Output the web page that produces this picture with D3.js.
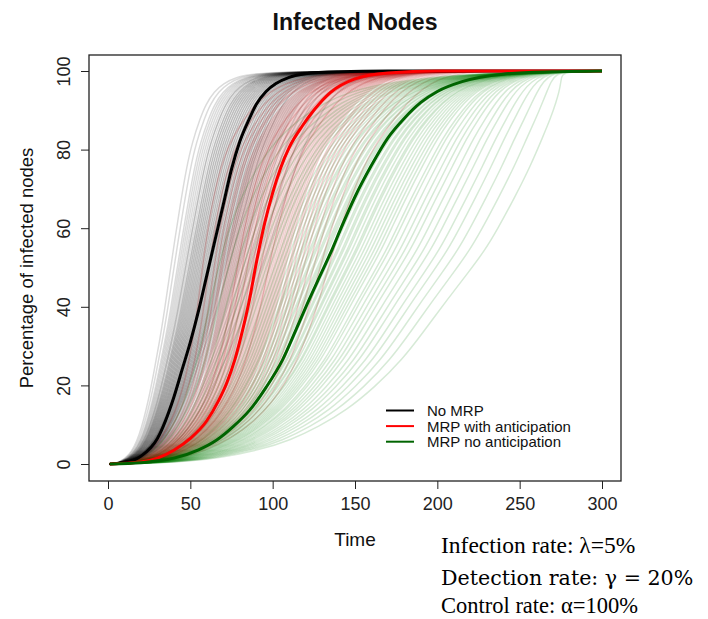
<!DOCTYPE html>
<html>
<head>
<meta charset="utf-8">
<script src="https://cdn.jsdelivr.net/npm/d3@7/dist/d3.min.js"></script>
<style>
  body { margin: 0; background: #fff; }
  svg { display: block; }
</style>
</head>
<body>
<div id="chart"></div>
<script>
// mean curves (time, % infected)
var blackTimes = [1, 10, 20, 30, 40, 45, 50, 55, 60, 65, 70, 75, 80, 86, 90, 96, 102, 110, 120, 140, 170, 300];
var blackMean  = [0, 0.3, 2, 6.5, 17, 24, 31, 39, 48, 57, 66, 75, 82, 88, 91.5, 94.8, 96.8, 98.4, 99.3, 99.8, 100, 100];

var redTimes = [1, 20, 30, 40, 50, 60, 67, 72, 77, 82, 86, 90, 95, 100, 105, 110, 118, 125, 135, 150, 170, 200, 300];
var redMean  = [0, 0.5, 1.5, 3.5, 6.5, 11, 16, 20.5, 26.5, 34.5, 42, 51, 61, 69, 75.5, 80.5, 86, 90, 94.5, 98, 99.5, 100, 100];

var greenTimes = [1, 20, 30, 40, 55, 66, 76, 86, 96, 106, 114, 122, 130, 136, 141, 150, 160, 170, 180, 190, 200, 215, 240, 270, 300];
var greenMean  = [0, 0.3, 0.8, 1.5, 3.6, 6.1, 9.5, 13.7, 19.5, 26.5, 34, 41.7, 49, 54.5, 59.5, 68, 76, 83, 88, 92, 94.8, 97.3, 99.2, 99.8, 100];

// time when the mean curve passes 50%
var halfTimes = [61, 89, 131];

// how far each single run sits from the mean at 50% (time units), estimated from the bundles
var blackRuns = [-23, -21, -19, -18, -17, -16, -15, -14, -14, -13, -12, -12, -11, -11, -10, -10, -9, -9, -8, -8, -7, -7, -6, -6, -5, -5, -4, -4, -3, -3, -2, -2, -1, -1, 0, 0, 0, 1, 1, 2, 2, 3, 3, 4, 4, 5, 5, 6, 6, 7, 7, 8, 8, 9, 9, 10, 10, 11, 12, 12, 13, 14, 15, 16, 17, 18, 19, 21, 23, 25, 28, 32];
var redRuns = [-32, -28, -25, -23, -21, -20, -18, -17, -16, -15, -14, -13, -12, -11, -11, -10, -9, -8, -8, -7, -6, -5, -5, -4, -3, -2, -2, -1, 0, 0, 1, 2, 3, 3, 4, 5, 6, 7, 8, 8, 9, 10, 11, 12, 13, 14, 15, 16, 17, 18, 20, 21, 23, 25, 27, 29, 32, 35, 39, 44];
var greenRuns = [-64, -58, -53, -49, -46, -43, -40, -37, -35, -33, -30, -28, -26, -24, -22, -20, -18, -17, -15, -13, -12, -10, -9, -7, -6, -4, -3, -2, 0, 1, 3, 4, 6, 7, 9, 10, 12, 14, 15, 17, 19, 21, 23, 25, 27, 29, 32, 34, 37, 40, 43, 46, 50, 54, 58, 63, 68, 74, 81, 90];

var seriesNames = ["No MRP", "MRP with anticipation", "MRP no anticipation"];
var seriesColors = ["#000000", "#ff0000", "#006400"];
var runColors = ["rgba(0,0,0,0.14)", "rgba(175,0,0,0.19)", "rgba(0,125,0,0.16)"];

var xTicks = [0, 50, 100, 150, 200, 250, 300];
var yTicks = [0, 20, 40, 60, 80, 100];

var notes = ["Infection rate: \u03bb=5%", "Detection rate: \u03b3 = 20%", "Control rate: \u03b1=100%"];

var width = 708,
    height = 619;

var box = { left: 89, right: 621, top: 55, bottom: 481 };

var x = d3.scaleLinear()
  .domain([0, 300])
  .range([108, 602]);

var y = d3.scaleLinear()
  .domain([0, 100])
  .range([464, 71]);

var svg = d3.select("#chart").append("svg")
  .attr("width", width)
  .attr("height", height)
  .style("font-family", "'Liberation Sans', Arial, sans-serif");

svg.append("clipPath")
  .attr("id", "plot-clip")
  .append("rect")
  .attr("x", x(1))
  .attr("y", box.top)
  .attr("width", x(300) - x(1))
  .attr("height", box.bottom - box.top);

var line = d3.line()
  .x(function(d) { return x(d[0]); })
  .y(function(d) { return y(d[1]); })
  .curve(d3.curveMonotoneX);

var runLine = d3.line()
  .x(function(d) { return x(d[0]); })
  .y(function(d) { return y(d[1]); })
  .curve(d3.curveBasis);

var groups = [
  { times: blackTimes, mean: blackMean, runs: blackRuns, half: halfTimes[0] },
  { times: redTimes, mean: redMean, runs: redRuns, half: halfTimes[1] },
  { times: greenTimes, mean: greenMean, runs: greenRuns, half: halfTimes[2] }
];

// a run is the mean curve stretched in time up to 50% (so all start together at t=1),
// after that its offset fades out smoothly so every run ends at 100% at t=300
function runPoints(g, d) {
  var r = 1 + d / (g.half - 1),
      span = 300 - g.half,
      a = 2 + span / (g.half - 1);
  return g.times.map(function(t, i) {
    if (t <= g.half) return [1 + (t - 1) * r, g.mean[i]];
    var v = (t - g.half) / span;
    return [t + d * (1 + a * v) * (1 - v) * (1 - v), g.mean[i]];
  });
}

var plot = svg.append("g").attr("clip-path", "url(#plot-clip)");

groups.forEach(function(g, gi) {
  plot.append("g")
    .selectAll("path")
    .data(g.runs)
    .enter().append("path")
    .attr("d", function(d) { return runLine(runPoints(g, d)); })
    .attr("fill", "none")
    .attr("stroke", runColors[gi])
    .attr("stroke-width", 1.5);
});

groups.forEach(function(g, gi) {
  plot.append("path")
    .datum(g.times.map(function(t, i) { return [t, g.mean[i]]; }))
    .attr("d", line)
    .attr("fill", "none")
    .attr("stroke", seriesColors[gi])
    .attr("stroke-width", 3);
});

// frame
svg.append("rect")
  .attr("x", box.left)
  .attr("y", box.top)
  .attr("width", box.right - box.left)
  .attr("height", box.bottom - box.top)
  .attr("fill", "none")
  .attr("stroke", "#222")
  .attr("stroke-width", 1.3);

// x axis
var xAxis = svg.append("g")
  .attr("transform", "translate(0," + box.bottom + ")")
  .call(d3.axisBottom(x).tickValues(xTicks).tickSize(8).tickPadding(8).tickSizeOuter(0));
xAxis.select(".domain").remove();
xAxis.selectAll("line").attr("stroke", "#222");
xAxis.selectAll("text")
  .attr("font-size", 18)
  .attr("font-family", "'Liberation Sans', Arial, sans-serif")
  .attr("fill", "#222");

// y axis, labels turned like R does
var yAxis = svg.append("g")
  .attr("transform", "translate(" + box.left + ",0)")
  .call(d3.axisLeft(y).tickValues(yTicks).tickSize(8).tickSizeOuter(0));
yAxis.select(".domain").remove();
yAxis.selectAll("line").attr("stroke", "#222");
yAxis.selectAll("text")
  .attr("x", null)
  .attr("dy", null)
  .attr("transform", "translate(-25,0) rotate(-90)")
  .attr("text-anchor", "middle")
  .attr("dominant-baseline", "central")
  .attr("font-size", 18)
  .attr("font-family", "'Liberation Sans', Arial, sans-serif")
  .attr("fill", "#222");

// titles
svg.append("text")
  .attr("x", 355)
  .attr("y", 30)
  .attr("text-anchor", "middle")
  .attr("font-weight", "bold")
  .attr("font-size", 23)
  .attr("fill", "#111")
  .text("Infected Nodes");

svg.append("text")
  .attr("x", 355)
  .attr("y", 546)
  .attr("text-anchor", "middle")
  .attr("font-size", 19)
  .attr("fill", "#111")
  .text("Time");

svg.append("text")
  .attr("transform", "translate(33,268) rotate(-90)")
  .attr("text-anchor", "middle")
  .attr("font-size", 18.5)
  .attr("fill", "#111")
  .text("Percentage of infected nodes");

// legend
var legend = svg.append("g")
  .selectAll("g")
  .data(seriesNames)
  .enter().append("g")
  .attr("transform", function(d, i) { return "translate(386," + (410.5 + i * 15.6) + ")"; });

legend.append("line")
  .attr("x1", 0)
  .attr("x2", 28)
  .attr("stroke", function(d, i) { return seriesColors[i]; })
  .attr("stroke-width", 2);

legend.append("text")
  .attr("x", 41)
  .attr("dominant-baseline", "central")
  .attr("font-size", 15)
  .attr("fill", "#111")
  .text(function(d) { return d; });

// parameter notes (the middle line is set in a wider serif in the original)
var noteY = [553, 585, 613],
    noteSize = [23.5, 20.6, 22.5],
    noteFont = ["'Liberation Serif', 'Times New Roman', serif",
                "'DejaVu Serif', serif",
                "'Liberation Serif', 'Times New Roman', serif"];

svg.append("g")
  .selectAll("text")
  .data(notes)
  .enter().append("text")
  .attr("x", 441)
  .attr("y", function(d, i) { return noteY[i]; })
  .attr("font-family", function(d, i) { return noteFont[i]; })
  .attr("font-size", function(d, i) { return noteSize[i]; })
  .attr("fill", "#000")
  .text(function(d) { return d; });
</script>
</body>
</html>
